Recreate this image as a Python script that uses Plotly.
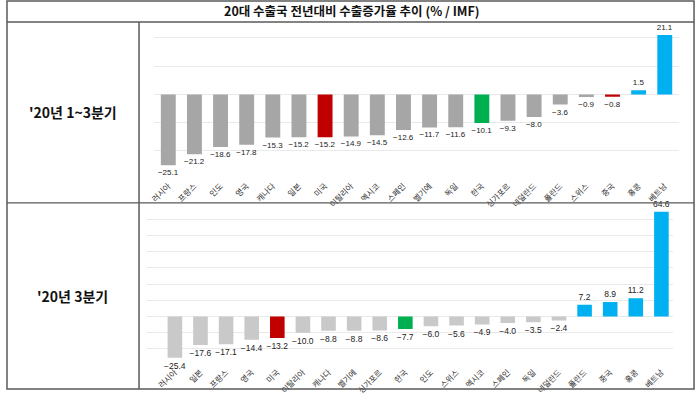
import plotly.graph_objects as go

W, H = 698, 395

title_text = "20대 수출국 전년대비 수출증가율 추이 (% / IMF)"
row_labels = ["'20년 1~3분기", "'20년 3분기"]

cats_top = ["러시아", "프랑스", "인도", "영국", "캐나다", "일본", "미국", "이탈리아", "멕시코", "스페인",
            "벨기에", "독일", "한국", "싱가포르", "네덜란드", "폴란드", "스위스", "중국", "홍콩", "베트남"]
vals_top = [-25.1, -21.2, -18.6, -17.8, -15.3, -15.2, -15.2, -14.9, -14.5, -12.6,
            -11.7, -11.6, -10.1, -9.3, -8.0, -3.6, -0.9, -0.8, 1.5, 21.1]

cats_bot = ["러시아", "일본", "프랑스", "영국", "미국", "이탈리아", "캐나다", "벨기에", "싱가포르", "한국",
            "인도", "스위스", "멕시코", "스페인", "독일", "네덜란드", "폴란드", "중국", "홍콩", "베트남"]
vals_bot = [-25.4, -17.6, -17.1, -14.4, -13.2, -10.0, -8.8, -8.8, -8.6, -7.7,
            -6.0, -5.6, -4.9, -4.0, -3.5, -2.4, 7.2, 8.9, 11.2, 64.6]

RED = "#c00000"
GREEN = "#00b050"
BLUE = "#00b0f0"


def bar_colors(cats, vals, gray, red_set):
    out = []
    for c, v in zip(cats, vals):
        if c in red_set:
            out.append(RED)
        elif c == "한국":
            out.append(GREEN)
        elif v > 0:
            out.append(BLUE)
        else:
            out.append(gray)
    return out


def px(x):
    return x / W


def py(y):
    return 1 - y / H


fig = go.Figure()
fig.add_trace(go.Bar(
    x=cats_top, y=vals_top, xaxis="x", yaxis="y",
    marker=dict(color=bar_colors(cats_top, vals_top, "#a6a6a6", {"미국", "중국"}), line=dict(width=0)),
    text=[f"{v:.1f}".replace("-", "−") for v in vals_top],
    textposition="outside", constraintext="none", cliponaxis=False,
    textfont=dict(family="Liberation Sans", size=8, color="#222222"),
))
fig.add_trace(go.Bar(
    x=cats_bot, y=vals_bot, xaxis="x2", yaxis="y2",
    marker=dict(color=bar_colors(cats_bot, vals_bot, "#c9c9c9", {"미국"}), line=dict(width=0)),
    text=[f"{v:.1f}".replace("-", "−") for v in vals_bot],
    textposition="outside", constraintext="none", cliponaxis=False,
    textfont=dict(family="Liberation Sans", size=8.5, color="#222222"),
))

tickfont = dict(family="Noto Sans CJK KR", size=8, color="#333333")
grid = "#e9e9e9"

shapes = [
    dict(type="rect", xref="paper", yref="paper", x0=px(2), x1=px(694), y0=py(391), y1=py(1),
         line=dict(color="#5a5a5a", width=1.5)),
    dict(type="line", xref="paper", yref="paper", x0=px(2), x1=px(694), y0=py(22), y1=py(22),
         line=dict(color="#5a5a5a", width=1.5)),
    dict(type="line", xref="paper", yref="paper", x0=px(135), x1=px(135), y0=py(22), y1=py(391),
         line=dict(color="#5a5a5a", width=1.5)),
    dict(type="line", xref="paper", yref="paper", x0=px(2), x1=px(694), y0=py(204), y1=py(204),
         line=dict(color="#5a5a5a", width=1.2)),
]

annotations = [
    dict(text=title_text, x=px(349), y=py(11), xref="paper", yref="paper", showarrow=False,
         xanchor="center", yanchor="middle",
         font=dict(family="Noto Sans CJK KR", size=12.5, color="#111111", weight="bold")),
    dict(text=row_labels[0], x=px(68), y=py(113), xref="paper", yref="paper", showarrow=False,
         xanchor="center", yanchor="middle",
         font=dict(family="Noto Sans CJK KR", size=14, color="#111111", weight="bold")),
    dict(text=row_labels[1], x=px(68), y=py(298), xref="paper", yref="paper", showarrow=False,
         xanchor="center", yanchor="middle",
         font=dict(family="Noto Sans CJK KR", size=14, color="#111111", weight="bold")),
]

fig.update_layout(
    width=W, height=H,
    margin=dict(l=0, r=0, t=0, b=0),
    paper_bgcolor="white", plot_bgcolor="white",
    showlegend=False,
    bargap=0.43,
    xaxis=dict(domain=[px(150), px(679)], anchor="y", range=[-0.55, 19.55], tickangle=-45,
               tickfont=tickfont, showgrid=False, showline=False, ticks=""),
    yaxis=dict(domain=[py(180), py(24)], anchor="x", range=[-30, 25], dtick=10, tick0=0,
               showticklabels=False, gridcolor=grid, gridwidth=1, zeroline=False, showline=False),
    xaxis2=dict(domain=[px(143), px(673)], anchor="y2", range=[-1.09, 19.46], tickangle=-45,
                tickfont=tickfont, showgrid=False, showline=False, ticks=""),
    yaxis2=dict(domain=[py(367), py(204)], anchor="x2", range=[-30, 70], dtick=10, tick0=0,
                showticklabels=False, gridcolor=grid, gridwidth=1, zeroline=False, showline=False),
    shapes=shapes,
    annotations=annotations,
)

fig.write_html(
    "out.html",
    config={"displayModeBar": False},
    post_script="document.body.style.margin='0';document.body.style.overflow='hidden';",
)
